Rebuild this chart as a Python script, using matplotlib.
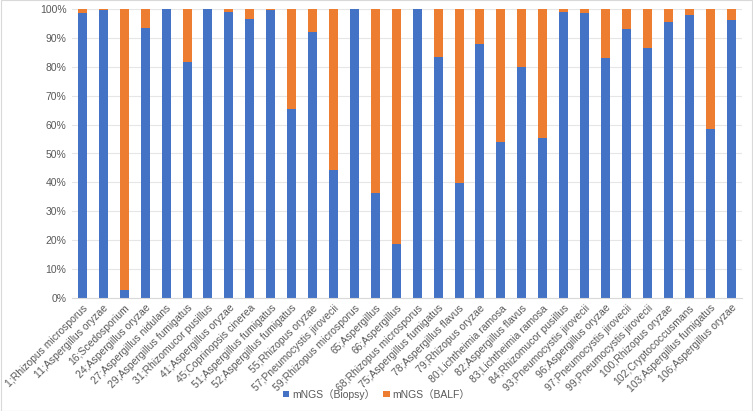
import matplotlib.pyplot as plt
from matplotlib.ticker import PercentFormatter

plt.rcParams["font.family"] = ["Liberation Sans", "Noto Sans CJK SC", "DejaVu Sans"]

# Patient id;pathogen and share of reads (percent) from each sample type
cases = [
    "1;Rhizopus microsporus", "11;Aspergillus oryzae", "16;Scedosporium",
    "24;Aspergillus oryzae", "27;Aspergillus nidulans", "29;Aspergillus fumigatus",
    "31;Rhizomucor pusillus", "41;Aspergillus oryzae", "45;Coprinopsis cinerea",
    "51;Aspergillus fumigatus", "52;Aspergillus fumigatus", "55;Rhizopus oryzae",
    "57;Pneumocystis jirovecii", "59;Rhizopus microsporus", "65;Aspergillus",
    "66;Aspergillus", "68;Rhizopus microsporus", "75;Aspergillus fumigatus",
    "78;Aspergillus flavus", "79;Rhizopus oryzae", "80;Lichtheimia ramosa",
    "82;Aspergillus flavus", "83;Lichtheimia ramosa", "84;Rhizomucor pusillus",
    "93;Pneumocystis jirovecii", "96;Aspergillus oryzae", "97;Pneumocystis jirovecii",
    "99;Pneumocystis jirovecii", "100;Rhizopus oryzae", "102;Cryptococcusmans",
    "103;Aspergillus fumigatus", "106;Aspergillus oryzae",
]
biopsy = [
    98.5, 99.7, 2.9, 93.5, 100, 81.8, 100, 99.1, 96.5, 99.7, 65.4, 92.2,
    44.2, 100, 36.3, 18.7, 100, 83.4, 39.9, 87.8, 54.1, 80.0, 55.5, 99.0,
    98.7, 83.2, 93.0, 86.6, 95.5, 97.9, 58.4, 96.3,
]
balf = [100 - b for b in biopsy]

fig = plt.figure(figsize=(7.53, 4.11), dpi=100)
ax = fig.add_axes([72 / 753, 1 - 298 / 411, (741.5 - 72) / 753, 289 / 411])

x = range(len(cases))
ax.bar(x, biopsy, width=0.43, color="#4472C4", label="mNGS（Biopsy）", zorder=2)
ax.bar(x, balf, width=0.43, bottom=biopsy, color="#ED7D31",
       label="mNGS（BALF）", zorder=2)

ax.set_xlim(-0.5, len(cases) - 0.5)
ax.set_ylim(0, 100)
ax.set_yticks(range(0, 101, 10))
ax.yaxis.set_major_formatter(PercentFormatter(decimals=0))
ax.grid(axis="y", color="#E6E6E6", linewidth=0.8, zorder=0)
for s in ["top", "right", "left"]:
    ax.spines[s].set_visible(False)
ax.spines["bottom"].set_color("#D9D9D9")
ax.tick_params(axis="both", length=0, colors="#595959", labelsize=7.5)
ax.tick_params(axis="y", pad=4)

ax.set_xticks(list(x))
ax.set_xticklabels(cases, rotation=45, ha="right", rotation_mode="anchor",
                   fontsize=7.5)

fig.legend(loc="lower center", bbox_to_anchor=(0.5, 0.005), ncol=2,
           frameon=False, fontsize=7.5, handlelength=0.6, handleheight=0.6,
           columnspacing=0.8, handletextpad=0.3, labelcolor="#595959")

fig.patches.append(plt.Rectangle((0.001, 0.001), 0.998, 0.998,
                                 transform=fig.transFigure, fill=False,
                                 edgecolor="#D9D9D9", linewidth=0.8))

fig.savefig("out.png", dpi=100)
